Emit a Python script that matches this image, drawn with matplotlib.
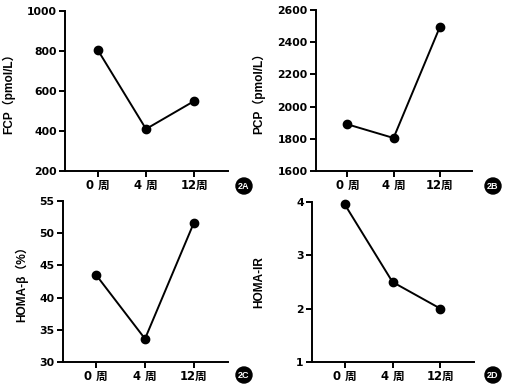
import matplotlib
matplotlib.use("Agg")
import matplotlib.pyplot as plt

plt.rcParams['font.family'] = ['Liberation Sans', 'Noto Sans CJK SC', 'DejaVu Sans']
plt.rcParams['font.weight'] = 'bold'

categories = ["0 周", "4 周", "12周"]
fcp = [805, 410, 550]
pcp = [1890, 1805, 2492]
homa_beta = [43.5, 33.6, 51.6]
homa_ir = [3.96, 2.5, 2.0]

panels = [
    dict(vals=fcp, ylabel="FCP（pmol/L）", ylim=(200, 1000), yticks=[200, 400, 600, 800, 1000],
         box=(65, 228, 11, 171), labx=15, tag="2A", tagpos=(244, 186)),
    dict(vals=pcp, ylabel="PCP（pmol/L）", ylim=(1600, 2600), yticks=[1600, 1800, 2000, 2200, 2400, 2600],
         box=(316, 472, 10, 171), labx=265, tag="2B", tagpos=(493, 186)),
    dict(vals=homa_beta, ylabel="HOMA-β（%）", ylim=(30, 55), yticks=[30, 35, 40, 45, 50, 55],
         box=(63, 228, 201, 362), labx=28, tag="2C", tagpos=(244, 375)),
    dict(vals=homa_ir, ylabel="HOMA-IR", ylim=(1, 4), yticks=[1, 2, 3, 4],
         box=(312, 474, 202, 362), labx=265, tag="2D", tagpos=(493, 375)),
]

tickfont = ['DejaVu Sans', 'Noto Sans CJK SC']

W, H = 510, 388
fig = plt.figure(figsize=(W / 100, H / 100), dpi=100)

for p in panels:
    l, r, t, b = p["box"]
    ax = fig.add_axes([l / W, 1 - b / H, (r - l) / W, (b - t) / H])
    x = list(range(len(categories)))
    ax.plot(x, p["vals"], color="black", lw=1.4, marker="o", ms=6, clip_on=False, zorder=3)
    ax.set_xlim(-0.68, 2.7)
    ax.set_ylim(*p["ylim"])
    ax.set_yticks(p["yticks"])
    ax.set_xticks(x)
    ax.set_xticklabels(categories)
    for s in ["top", "right"]:
        ax.spines[s].set_visible(False)
    for s in ["left", "bottom"]:
        ax.spines[s].set_linewidth(1.4)
    ax.tick_params(axis="both", width=1.4, length=4, pad=2)
    for lab in ax.get_yticklabels():
        lab.set_fontweight("bold")
        lab.set_family(tickfont)
        lab.set_fontsize(7.8)
    for lab in ax.get_xticklabels():
        lab.set_fontweight("bold")
        lab.set_family(tickfont)
        lab.set_fontsize(8.4)
    ax.set_ylabel(p["ylabel"], fontsize=8.6, fontweight="bold")
    ax.yaxis.set_label_coords((p["labx"] - l) / (r - l), 0.5)
    tx, ty = p["tagpos"]
    fig.text(tx / W, 1 - ty / H, p["tag"], color="white", fontsize=6.5, fontweight="bold",
             ha="center", va="center", family=['Liberation Sans Narrow', 'Liberation Sans'],
             bbox=dict(boxstyle="circle,pad=0.25", fc="black", ec="black"))

fig.savefig("out.png", dpi=100)
